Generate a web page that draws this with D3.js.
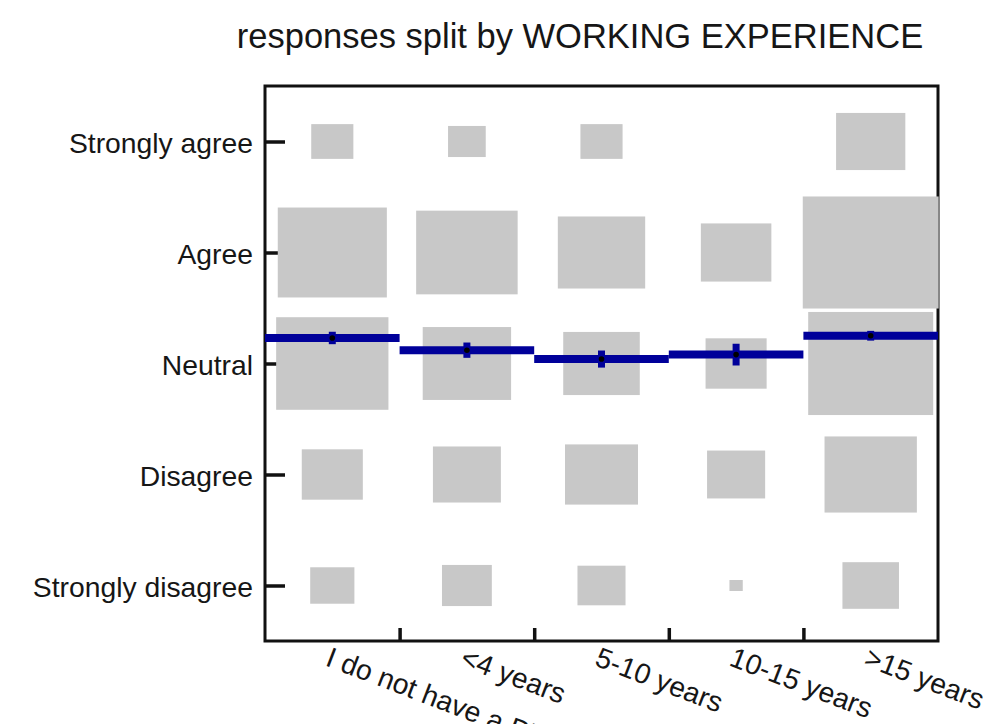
<!DOCTYPE html>
<html>
<head>
<meta charset="utf-8">
<script src="https://cdn.jsdelivr.net/npm/d3@7"></script>
<style>
  body { margin: 0; background: #fff; }
  svg text { font-family: "Liberation Sans", Arial, Helvetica, sans-serif; fill: #161616; }
</style>
</head>
<body>
<svg id="chart" width="989" height="724"></svg>
<script>
// categories (x) and answer levels (y, 1 = strongly disagree)
var categories = ["I do not have a PhD", "<4 years", "5-10 years", "10-15 years", ">15 years"];
var levelLabels = ["Strongly disagree", "Disagree", "Neutral", "Agree", "Strongly agree"];

// number of answers per level, one value per category
var stronglyDisagree = [11, 14, 13, 1, 18];
var disagree         = [21, 26, 30, 19, 48];
var neutral          = [71, 44, 33, 21, 88];
var agree            = [67, 58, 43, 28, 104];
var stronglyAgree    = [10, 8, 10, 0, 27];

// mean answer and its standard error per category
var means = [3.23, 3.12, 3.04, 3.08, 3.25];
var errors = [0.056, 0.069, 0.077, 0.098, 0.044];

var rows = [stronglyDisagree, disagree, neutral, agree, stronglyAgree];

var svg = d3.select("#chart");
var plotL = 265, plotR = 938, plotT = 86, plotB = 641;

var x = d3.scaleLinear().domain([0, categories.length]).range([plotL, plotR]);
var y = d3.scaleLinear().domain([0.5, 5.5]).range([plotB, plotT]);
// side of a square in data units, area proportional to count
var size = d3.scaleSqrt().domain([0, 100]).range([0, 0.99]);

// frame
svg.append("rect")
    .attr("x", plotL).attr("y", plotT)
    .attr("width", plotR - plotL).attr("height", plotB - plotT)
    .attr("fill", "none").attr("stroke", "#111").attr("stroke-width", 3);

// y axis
var yAxis = svg.append("g")
    .attr("transform", "translate(" + plotL + ",0)")
    .call(d3.axisLeft(y)
        .tickValues([1, 2, 3, 4, 5])
        .tickFormat(function(d) { return levelLabels[d - 1]; })
        .tickSizeInner(-20).tickSizeOuter(0).tickPadding(12));
yAxis.select(".domain").remove();
yAxis.selectAll("line").attr("stroke", "#111").attr("stroke-width", 3.5);
yAxis.selectAll("text")
    .attr("font-size", 28.3)
    .attr("dy", "0.38em")
    .attr("fill", "#161616")
    .style("font-family", "'Liberation Sans', Arial, sans-serif");

// x axis ticks at category boundaries
var xAxis = svg.append("g")
    .attr("transform", "translate(0," + plotB + ")")
    .call(d3.axisBottom(x)
        .tickValues(d3.range(1, categories.length))
        .tickFormat("")
        .tickSizeInner(-13).tickSizeOuter(0));
xAxis.select(".domain").remove();
xAxis.selectAll("line").attr("stroke", "#111").attr("stroke-width", 3.5);

// category labels, rotated
svg.append("g").selectAll("text")
    .data(categories)
    .enter().append("text")
    .attr("transform", function(d, i) {
        return "translate(" + (x(i + 0.5) - 8) + "," + (plotB + 24) + ") rotate(21)";
    })
    .attr("font-size", 28.3)
    .text(function(d) { return d; });

// squares
var cells = [];
rows.forEach(function(row, li) {
    row.forEach(function(n, ci) {
        if (n > 0) cells.push({level: li + 1, cat: ci, n: n});
    });
});

svg.append("g").selectAll("rect")
    .data(cells)
    .enter().append("rect")
    .attr("x", function(d) { return x(d.cat + 0.5 - size(d.n) / 2); })
    .attr("y", function(d) { return y(d.level + size(d.n) / 2); })
    .attr("width", function(d) { return x(size(d.n)) - x(0); })
    .attr("height", function(d) { return y(0.5) - y(0.5 + size(d.n)); })
    .attr("fill", "#c8c8c8");

// mean lines with error bars
var blue = "#00009a";
var meanG = svg.append("g");
meanG.selectAll("line.mean")
    .data(means)
    .enter().append("line")
    .attr("class", "mean")
    .attr("x1", function(d, i) { return x(i); })
    .attr("x2", function(d, i) { return x(i + 1); })
    .attr("y1", function(d) { return y(d); })
    .attr("y2", function(d) { return y(d); })
    .attr("stroke", blue).attr("stroke-width", 8);

meanG.selectAll("line.err")
    .data(means)
    .enter().append("line")
    .attr("class", "err")
    .attr("x1", function(d, i) { return x(i + 0.5); })
    .attr("x2", function(d, i) { return x(i + 0.5); })
    .attr("y1", function(d, i) { return y(d + errors[i]); })
    .attr("y2", function(d, i) { return y(d - errors[i]); })
    .attr("stroke", blue).attr("stroke-width", 7);

meanG.selectAll("circle")
    .data(means)
    .enter().append("circle")
    .attr("cx", function(d, i) { return x(i + 0.5); })
    .attr("cy", function(d) { return y(d); })
    .attr("r", 2.8)
    .attr("fill", "#000");

// title
svg.append("text")
    .attr("x", 580).attr("y", 48)
    .attr("text-anchor", "middle")
    .attr("font-size", 34.5)
    .text("responses split by WORKING EXPERIENCE");
</script>
</body>
</html>
